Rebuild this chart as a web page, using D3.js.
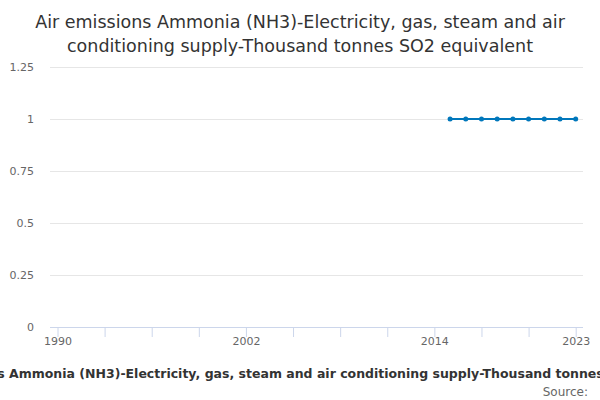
<!DOCTYPE html>
<html>
<head>
<meta charset="utf-8">
<script src="https://cdn.jsdelivr.net/npm/d3@7"></script>
<style>
body { margin: 0; background: #fff; }
svg { font-family: "DejaVu Sans", sans-serif; }
</style>
</head>
<body>
<div id="chart"></div>
<script>
// chart values
var titleLines = ["Air emissions Ammonia (NH3)-Electricity, gas, steam and air",
	"conditioning supply-Thousand tonnes SO2 equivalent"];
var seriesName = "Air emissions Ammonia (NH3)-Electricity, gas, steam and air conditioning supply-Thousand tonnes SO2 equivalent";
var years = [2015, 2016, 2017, 2018, 2019, 2020, 2021, 2022, 2023];
var values = [1, 1, 1, 1, 1, 1, 1, 1, 1];
var yTicks = [0, 0.25, 0.5, 0.75, 1, 1.25];
var xTicks = [1990, 1993, 1996, 1999, 2002, 2005, 2008, 2011, 2014, 2017, 2020, 2023];
var xLabels = [1990, 2002, 2014, 2023];

var width = 600, height = 400;
var plot = {left: 50, right: 583, top: 67, bottom: 327};

var svg = d3.select("#chart").append("svg")
	.attr("width", width)
	.attr("height", height);

//scales
var x = d3.scaleLinear().domain([1990, 2023]).range([57.5, 575.7]);
var y = d3.scaleLinear().domain([0, 1.25]).range([plot.bottom, plot.top]);

//title
svg.append("text")
	.attr("x", width / 2)
	.attr("y", 28)
	.attr("text-anchor", "middle")
	.attr("fill", "#333")
	.style("font-size", "17.5px")
	.selectAll("tspan")
	.data(titleLines)
	.enter().append("tspan")
	.attr("x", width / 2)
	.attr("dy", function(d, i) { return i == 0 ? 0 : 24; })
	.text(function(d) { return d; });

//y grid + labels
var yAxis = svg.append("g")
	.attr("transform", "translate(" + plot.left + ",0)")
	.call(d3.axisLeft(y).tickValues(yTicks).tickSize(-(plot.right - plot.left))
		.tickFormat(function(d) { return d; }));
yAxis.select(".domain").remove();
yAxis.selectAll(".tick line").attr("stroke", "#e6e6e6");
yAxis.selectAll(".tick").filter(function(d) { return d == 0; }).select("line").remove();
yAxis.selectAll(".tick text")
	.attr("x", -16)
	.attr("fill", "#666")
	.style("font-size", "11px")
	.style("font-family", "DejaVu Sans");

//x axis
var xAxis = svg.append("g")
	.attr("transform", "translate(0," + plot.bottom + ")")
	.call(d3.axisBottom(x).tickValues(xTicks).tickSize(10).tickSizeOuter(0)
		.tickFormat(function(d) { return xLabels.indexOf(d) >= 0 ? d : ""; }));
xAxis.select(".domain")
	.attr("d", "M" + plot.left + ",0.5H" + plot.right)
	.attr("stroke", "#ccd6eb");
xAxis.selectAll(".tick line").attr("stroke", "#ccd6eb");
xAxis.selectAll(".tick text")
	.attr("y", 10)
	.attr("dy", "0.71em")
	.attr("fill", "#666")
	.style("font-size", "11px")
	.style("font-family", "DejaVu Sans");

//series
var pts = years.map(function(d, i) { return [d, values[i]]; });
var line = d3.line()
	.x(function(d) { return x(d[0]); })
	.y(function(d) { return y(d[1]); });

svg.append("path")
	.datum(pts)
	.attr("fill", "none")
	.attr("stroke", "#0077bb")
	.attr("stroke-width", 2)
	.attr("d", line);

svg.selectAll(".dot")
	.data(pts)
	.enter().append("circle")
	.attr("class", "dot")
	.attr("cx", function(d) { return x(d[0]); })
	.attr("cy", function(d) { return y(d[1]); })
	.attr("r", 2.5)
	.attr("fill", "#0077bb");

//legend (too long for the width, clipped at both edges like the original)
svg.append("text")
	.attr("x", 313)
	.attr("y", 378)
	.attr("text-anchor", "middle")
	.attr("fill", "#333")
	.style("font-size", "12.5px")
	.style("font-weight", "bold")
	.text(seriesName);

//credits
svg.append("text")
	.attr("x", 588)
	.attr("y", 396)
	.attr("text-anchor", "end")
	.attr("fill", "#666")
	.style("font-size", "12px")
	.text("Source:");
</script>
</body>
</html>
